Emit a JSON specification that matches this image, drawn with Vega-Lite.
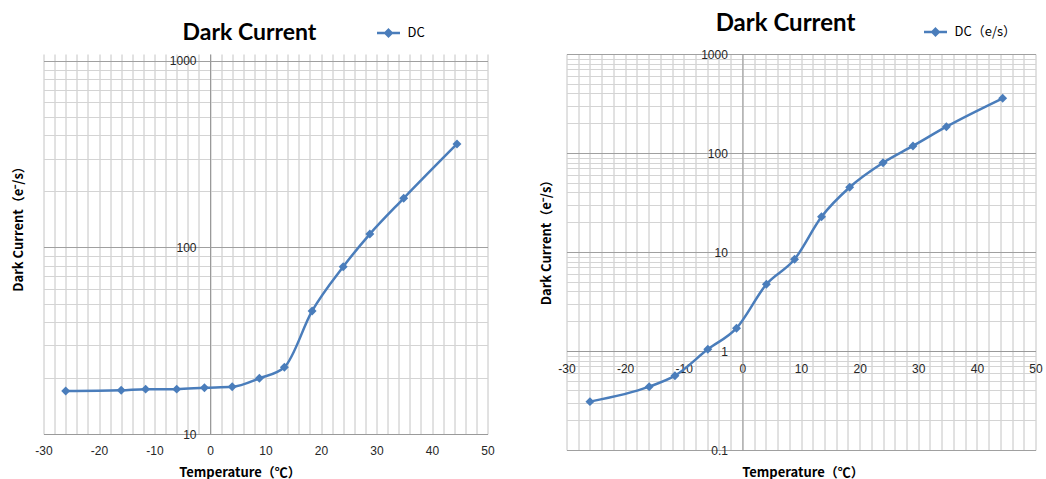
{
  "$schema": "https://vega.github.io/schema/vega-lite/v6.json",
  "autosize": {"type": "pad"},
  "padding": {"left": 12.5, "top": 12, "right": 0, "bottom": 0},
  "bounds": "flush",
  "spacing": 79,
  "config": {
    "view": {"stroke": null},
    "font": "Liberation Sans",
    "axis": {
      "ticks": false,
      "labelFont": "Liberation Sans",
      "labelFontSize": 12,
      "labelColor": "#262626",
      "labelFlush": false,
      "labelOverlap": false,
      "labelBound": false,
      "domainColor": "#9a9a9a",
      "domainWidth": 1,
      "gridWidth": 1,
      "gridOpacity": 1,
      "titleFont": "Noto Sans CJK SC",
      "titleFontSize": 13,
      "titleFontWeight": "bold",
      "titleColor": "#000000"
    },
    "legend": {
      "orient": "none",
      "padding": 0,
      "symbolType": "M-1,0H1M0,-0.28L0.28,0L0,0.28L-0.28,0Z",
      "symbolSize": 529,
      "symbolStrokeWidth": 2.5,
      "symbolStrokeColor": "#4a7dbb",
      "symbolFillColor": "#4a7dbb",
      "labelFont": "Noto Sans CJK SC",
      "labelFontSize": 13,
      "labelColor": "#000000",
      "labelOffset": 6,
      "title": null
    },
    "title": {"font": "Lato", "fontSize": 23, "fontWeight": "bold", "color": "#000000"}
  },
  "resolve": {"scale": {"color": "independent", "x": "independent", "y": "independent"}, "legend": {"color": "independent"}},
  "hconcat": [
    {
      "width": 444,
      "height": 380,
      "title": {"text": "Dark Current", "anchor": "middle", "frame": "group", "dx": -16, "dy": 43, "offset": 0, "baseline": "alphabetic"},
      "data": {"values": [
        {"T": -26, "DC": 17.0},
        {"T": -16, "DC": 17.15},
        {"T": -11.6, "DC": 17.4},
        {"T": -6, "DC": 17.4},
        {"T": -1, "DC": 17.7},
        {"T": 4, "DC": 17.9},
        {"T": 8.9, "DC": 19.9},
        {"T": 13.4, "DC": 22.8},
        {"T": 18.4, "DC": 45.7},
        {"T": 24, "DC": 78.9},
        {"T": 28.8, "DC": 118},
        {"T": 34.9, "DC": 183.6},
        {"T": 44.5, "DC": 359}
      ]},
      "encoding": {
        "x": {"field": "T", "type": "quantitative",
          "scale": {"domain": [-30, 50], "nice": false, "zero": false},
          "axis": {
            "values": [-30,-28,-26,-24,-22,-20,-18,-16,-14,-12,-10,-8,-6,-4,-2,0,2,4,6,8,10,12,14,16,18,20,22,24,26,28,30,32,34,36,38,40,42,44,46,48,50],
            "labelExpr": "datum.value % 10 === 0 ? '' + datum.value : ''",
            "grid": true, "gridColor": "#c4c4c4",
            "labelPadding": 11,
            "title": "Temperature（℃）", "titleX": 196, "titleY": 38, "titleBaseline": "middle"
          }},
        "y": {"field": "DC", "type": "quantitative",
          "scale": {"type": "log", "domain": [10, 1090.2], "nice": false},
          "axis": {
            "offset": -166.5,
            "values": [10,20,30,40,50,60,70,80,90,100,200,300,400,500,600,700,800,900,1000],
            "labelExpr": "indexof([10,100,1000], datum.value) >= 0 ? '' + datum.value : ''",
            "grid": true,
            "gridColor": {"condition": {"test": "indexof([10,100,1000], datum.value) >= 0", "value": "#a0a0a0"}, "value": "#d4d4d4"},
            "labelPadding": 14,
            "title": "Dark Current（e⁻/s）", "titleX": -191.5, "titleY": 171.5, "titleBaseline": "middle", "titleAngle": 270
          }},
        "color": {"datum": "DC", "type": "nominal", "scale": {"range": ["#4a7dbb"]},
          "legend": {"legendX": 332, "legendY": -34}}
      },
      "layer": [
        {"mark": {"type": "line", "interpolate": "monotone", "strokeWidth": 2.5}},
        {"mark": {"type": "point", "shape": "diamond", "size": 80, "filled": true, "opacity": 1, "strokeWidth": 1}}
      ]
    },
    {
      "width": 469,
      "height": 396,
      "title": {"text": "Dark Current", "anchor": "middle", "frame": "group", "dx": -15.5, "dy": 36, "offset": 0, "baseline": "alphabetic", "fontSize": 24},
      "data": {"values": [
        {"T": -26, "DC": 0.308},
        {"T": -15.9, "DC": 0.436},
        {"T": -11.5, "DC": 0.563},
        {"T": -5.9, "DC": 1.04},
        {"T": -1, "DC": 1.70},
        {"T": 4.1, "DC": 4.72},
        {"T": 8.9, "DC": 8.44},
        {"T": 13.5, "DC": 22.7},
        {"T": 18.3, "DC": 45.1},
        {"T": 24, "DC": 79.8},
        {"T": 29.1, "DC": 117.8},
        {"T": 34.8, "DC": 184.5},
        {"T": 44.4, "DC": 357}
      ]},
      "encoding": {
        "x": {"field": "T", "type": "quantitative",
          "scale": {"domain": [-30, 50], "nice": false, "zero": false},
          "axis": {
            "offset": -99,
            "values": [-30,-28,-26,-24,-22,-20,-18,-16,-14,-12,-10,-8,-6,-4,-2,0,2,4,6,8,10,12,14,16,18,20,22,24,26,28,30,32,34,36,38,40,42,44,46,48,50],
            "labelExpr": "datum.value % 10 === 0 ? '' + datum.value : ''",
            "grid": true, "gridColor": "#c4c4c4",
            "labelPadding": 12,
            "title": "Temperature（℃）", "titleX": 236, "titleY": 121, "titleBaseline": "middle"
          }},
        "y": {"field": "DC", "type": "quantitative",
          "scale": {"type": "log", "domain": [0.1, 1000], "nice": false},
          "axis": {
            "offset": -175.9,
            "values": [0.1,0.2,0.3,0.4,0.5,0.6,0.7,0.8,0.9,1,2,3,4,5,6,7,8,9,10,20,30,40,50,60,70,80,90,100,200,300,400,500,600,700,800,900,1000],
            "labelExpr": "indexof([0.1,1,10,100,1000], datum.value) >= 0 ? '' + datum.value : ''",
            "grid": true,
            "gridColor": {"condition": {"test": "indexof([0.1,1,10,100,1000], datum.value) >= 0", "value": "#a0a0a0"}, "value": "#d4d4d4"},
            "labelPadding": 15,
            "title": "Dark Current（e⁻/s）", "titleX": -195.5, "titleY": 185, "titleBaseline": "middle", "titleAngle": 270
          }},
        "color": {"datum": "DC（e/s）", "type": "nominal", "scale": {"range": ["#4a7dbb"]},
          "legend": {"legendX": 356, "legendY": -35}}
      },
      "layer": [
        {"mark": {"type": "line", "interpolate": "monotone", "strokeWidth": 2.5}},
        {"mark": {"type": "point", "shape": "diamond", "size": 80, "filled": true, "opacity": 1, "strokeWidth": 1}}
      ]
    }
  ]
}
